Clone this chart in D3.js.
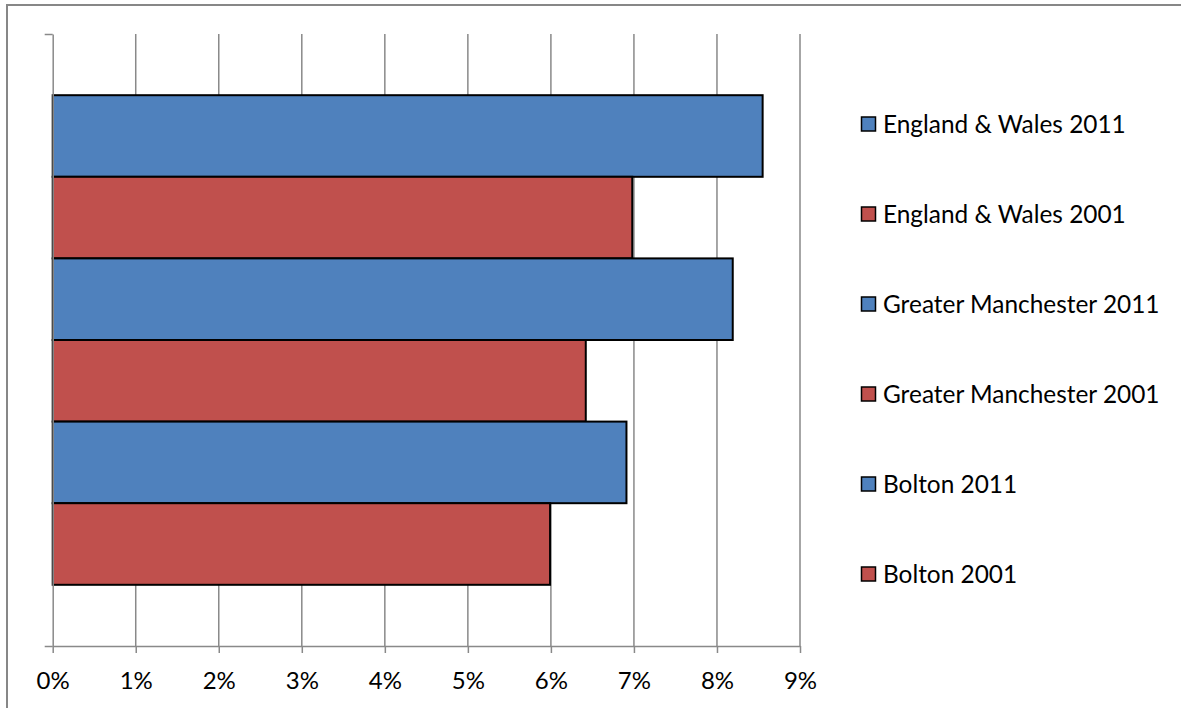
<!DOCTYPE html>
<html>
<head>
<meta charset="utf-8">
<script src="https://cdn.jsdelivr.net/npm/d3@7"></script>
<style>
  html, body { margin: 0; padding: 0; background: #fff; }
  svg { display: block; }
</style>
</head>
<body>
<svg id="chart" width="1181" height="708"></svg>
<script>
// Share of population, by area and census year (top to bottom)
const seriesNames = [
  "England & Wales 2011",
  "England & Wales 2001",
  "Greater Manchester 2011",
  "Greater Manchester 2001",
  "Bolton 2011",
  "Bolton 2001"
];
const seriesValues = [0.0855, 0.0698, 0.0819, 0.0642, 0.0691, 0.0599];
const seriesColors = ["#4F81BD", "#C0504D", "#4F81BD", "#C0504D", "#4F81BD", "#C0504D"];
const xTicks = [0, 0.01, 0.02, 0.03, 0.04, 0.05, 0.06, 0.07, 0.08, 0.09];

const FONT = "Lato, 'Open Sans', sans-serif";
const svg = d3.select("#chart");

// chart frame (only top/left edges fall inside the canvas)
svg.append("rect")
  .attr("x", 7).attr("y", 5)
  .attr("width", 1200).attr("height", 720)
  .attr("fill", "#fff")
  .attr("stroke", "#878787").attr("stroke-width", 2);

const plot = { left: 52.7, right: 800, top: 34, bottom: 646 };

const x = d3.scaleLinear().domain([0, 0.09]).range([plot.left, plot.right]);
const y = d3.scaleBand()
  .domain(seriesNames)
  .range([plot.top, plot.bottom])
  .paddingInner(0)
  .paddingOuter(0.75);

const gridColor = "#898989";

// vertical gridlines
svg.append("g")
  .selectAll("line")
  .data(xTicks.slice(1))
  .join("line")
  .attr("x1", d => x(d)).attr("x2", d => x(d))
  .attr("y1", plot.top).attr("y2", plot.bottom)
  .attr("stroke", gridColor).attr("stroke-width", 1.5);

// bars
svg.append("g")
  .selectAll("rect")
  .data(seriesNames)
  .join("rect")
  .attr("x", x(0))
  .attr("y", d => y(d))
  .attr("width", (d, i) => x(seriesValues[i]) - x(0))
  .attr("height", y.bandwidth())
  .attr("fill", (d, i) => seriesColors[i])
  .attr("stroke", "#000").attr("stroke-width", 2);

// value axis along the bottom
const xAxis = d3.axisBottom(x)
  .tickValues(xTicks)
  .tickFormat(d3.format(".0%"))
  .tickSizeInner(7)
  .tickSizeOuter(0)
  .tickPadding(19);
const gx = svg.append("g")
  .attr("transform", `translate(0,${plot.bottom})`)
  .call(xAxis);
gx.select(".domain").attr("stroke", gridColor).attr("stroke-width", 1.5);
gx.selectAll(".tick line").attr("stroke", gridColor).attr("stroke-width", 1.5);
gx.selectAll(".tick text")
  .attr("fill", "#000")
  .style("font-family", FONT)
  .style("font-size", "24px");

// category axis on the left
const catAxis = d3.scaleLinear().domain([0, 1]).range([plot.bottom, plot.top]);
const gy = svg.append("g")
  .attr("transform", `translate(${plot.left},0)`)
  .call(d3.axisLeft(catAxis).tickValues([0, 1]).tickFormat("").tickSizeInner(8).tickSizeOuter(0));
gy.select(".domain").attr("stroke", gridColor).attr("stroke-width", 1.5);
gy.selectAll(".tick line").attr("stroke", gridColor).attr("stroke-width", 1.5);

// legend
const legendY = d3.scalePoint().domain(seriesNames).range([124, 574]);
const legend = svg.append("g");
const items = legend.selectAll("g")
  .data(seriesNames)
  .join("g")
  .attr("transform", d => `translate(861,${legendY(d)})`);
items.append("rect")
  .attr("x", 0.5).attr("y", -7)
  .attr("width", 14).attr("height", 14)
  .attr("fill", (d, i) => seriesColors[i])
  .attr("stroke", "#000").attr("stroke-width", 1.5);
items.append("text")
  .attr("x", 22).attr("y", 0)
  .attr("dy", "0.35em")
  .style("font-family", FONT)
  .style("font-size", "24.4px")
  .attr("fill", "#000")
  .text(d => d);
</script>
</body>
</html>
